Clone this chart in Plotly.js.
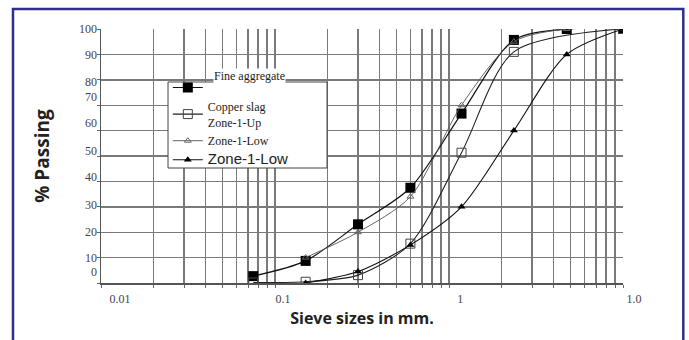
<!DOCTYPE html>
<html>
<head>
<meta charset="utf-8">
<script src="https://cdn.plot.ly/plotly-3.0.1.min.js"></script>
<style>html,body{margin:0;padding:0;background:#fff;}#chart{width:689px;height:340px;}</style>
</head>
<body>
<div id="chart"></div>
<script>
// Sieve sizes (mm)
const sieves = [0.075, 0.15, 0.3, 0.6, 1.18, 2.36, 4.75, 10];
// % passing
const fineAggregate = [2.7, 8.7, 23.1, 37.5, 66.7, 95.7, 100, 100];
const copperSlagSieves = [0.075, 0.15, 0.3, 0.6, 1.18, 2.36, 10];
const copperSlag = [0.2, 0.5, 3.1, 15.5, 51.3, 91, 100];
const zoneSieves = [0.15, 0.3, 0.6, 1.18, 2.36, 4.75, 10];
const zone1Up = [10, 20, 34, 70, 95, 100, 100];
const zone1Low = [0, 4.5, 15, 30, 60, 90, 100];

// tick labels (as printed in the figure)
const xTickText = ["0.01", "0.1", "1", "1.0"];
const xLabelPos = [0.0111, 0.0961, 1.003, 9.99];
const yTickText = ["100", "90", "80", "70", "60", "50", "40", "30", "20", "10", "0"];
const yLabelPos = [99.9, 89.8, 79.1, 73.2, 63, 52, 41.7, 30.7, 20.1, 9.8, 4.3];
const xGrid = [0.01,0.02,0.03,0.04,0.05,0.06,0.07,0.08,0.09,0.1,0.2,0.3,0.4,0.5,0.6,0.7,0.8,0.9,1,2,3,4,5,6,7,8,9,10];
const yGrid = [0,10,20,30,40,50,60,70,80,90,100];

const serif = "Liberation Serif, Times New Roman, serif";
const traces = [
  {x: sieves, y: fineAggregate, name: " ", mode: "lines+markers",
   line: {color: "#111", width: 1.2, shape: "spline", smoothing: 0.8},
   marker: {symbol: "square", size: 10, color: "#000"}},
  {x: copperSlagSieves, y: copperSlag, name: "Copper slag<br>Zone-1-Up", mode: "lines+markers",
   line: {color: "#222", width: 1.1, shape: "spline", smoothing: 0.8},
   marker: {symbol: "square-open", size: 9, color: "#444", line: {width: 1}}},
  {x: zoneSieves, y: zone1Up, name: "Zone-1-Low", mode: "lines+markers",
   line: {color: "#555", width: 0.9, shape: "spline", smoothing: 0.8},
   marker: {symbol: "triangle-up-open", size: 6, color: "#666", line: {width: 1}}},
  {x: zoneSieves, y: zone1Low, name: '<span style="font-family:Liberation Sans, Arial, sans-serif;font-size:15px">Zone-1-Low</span>', mode: "lines+markers",
   line: {color: "#111", width: 1.1, shape: "spline", smoothing: 0.8},
   marker: {symbol: "triangle-up", size: 7, color: "#000"}}
];

const layout = {
  width: 689, height: 340,
  margin: {l: 101, r: 66, t: 29, b: 57},
  paper_bgcolor: "#fff", plot_bgcolor: "#fff",
  showlegend: true,
  legend: {
    x: 0.128, y: 0.8268, xanchor: "left", yanchor: "top",
    bgcolor: "rgba(0,0,0,0)", borderwidth: 0,
    font: {family: serif, size: 12, color: "#222"},
    tracegroupgap: 0, itemwidth: 30
  },
  annotations: [
    {text: "Fine aggregate", xref: "paper", yref: "paper", x: 0.2146, y: 0.813,
     xanchor: "left", yanchor: "middle", showarrow: false, bgcolor: "#fff", borderpad: 0,
     font: {family: serif, size: 12, color: "#222"}}
  ],
  xaxis: {
    type: "log", range: [-2, 1],
    tickmode: "array", tickvals: xLabelPos, ticktext: xTickText,
    ticks: "", showgrid: false, ticklabelshift: 11, ticklabelstandoff: 4,
    tickfont: {family: serif, size: 12, color: "#444"},
    showline: true, linecolor: "#555", linewidth: 1.5, zeroline: false,
    minor: {tickmode: "array", tickvals: xGrid, showgrid: true, gridcolor: "#7a7a7a", gridwidth: 1.4, ticks: "outside", ticklen: 3, tickcolor: "#666"},
    title: {text: "Sieve sizes in mm.", font: {family: "Open Sans, sans-serif", size: 16, color: "#222", weight: "bold"}, standoff: 8}
  },
  yaxis: {
    range: [0, 100],
    tickmode: "array", tickvals: yLabelPos, ticktext: yTickText,
    ticks: "", showgrid: false, zeroline: false,
    tickfont: {family: serif, size: 12, color: "#444"},
    showline: true, linecolor: "#555", linewidth: 1.5,
    minor: {tickmode: "array", tickvals: yGrid, showgrid: true, gridcolor: "#7a7a7a", gridwidth: 1.4, ticks: "outside", ticklen: 3, tickcolor: "#666"},
    title: {text: "% Passing", font: {family: "Open Sans, sans-serif", size: 19, color: "#222", weight: "bold"}, standoff: 24}
  },
  shapes: [
    {type: "rect", xref: "paper", yref: "paper", x0: 0.1284, x1: 0.433, y0: 0.4527, y1: 0.7913,
     layer: "above", line: {color: "#444", width: 1}, fillcolor: "#fff"},
    {type: "rect", xref: "paper", yref: "paper", x0: -0.1686, x1: 1.1155, y0: -0.25, y1: 1.079,
     line: {color: "#2e2e8c", width: 2.5}, fillcolor: "rgba(0,0,0,0)"}
  ]
};

Plotly.newPlot("chart", traces, layout, {displayModeBar: false, staticPlot: true});
</script>
</body>
</html>
